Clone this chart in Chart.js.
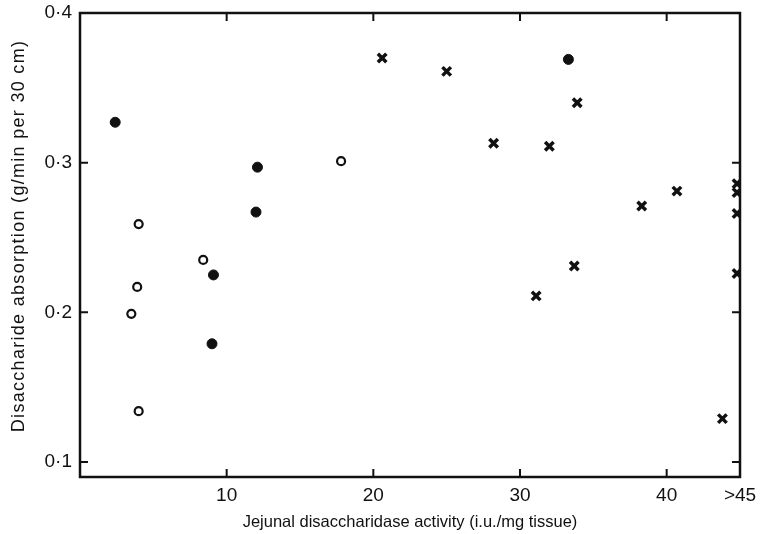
<!DOCTYPE html>
<html>
<head>
<meta charset="utf-8">
<script src="https://cdn.jsdelivr.net/npm/chart.js@4.4.1/dist/chart.umd.min.js"></script>
<style>
  html, body { margin:0; padding:0; background:#fff; }
  #wrap { width:768px; height:534px; }
</style>
</head>
<body>
<div id="wrap"><canvas id="chart" width="768" height="534"></canvas></div>
<script>
// values
const filledX = [2.4, 9.0, 9.1, 12.0, 12.1, 33.3];
const filledY = [0.327, 0.179, 0.225, 0.267, 0.297, 0.369];

const openX = [3.5, 3.9, 4.0, 4.0, 8.4, 17.8];
const openY = [0.199, 0.217, 0.259, 0.134, 0.235, 0.301];

const crossX = [20.6, 25.0, 28.2, 31.1, 32.0, 33.7, 33.9, 38.3, 40.7, 43.8, 44.8, 44.8, 44.8, 44.8];
const crossY = [0.370, 0.361, 0.313, 0.211, 0.311, 0.231, 0.340, 0.271, 0.281, 0.129, 0.286, 0.280, 0.266, 0.226];

const xTicks = [10, 20, 30, 40, 45];
const xTickLabels = ['10', '20', '30', '40', '>45'];
const yTicks = [0.1, 0.2, 0.3, 0.4];
const yTickLabels = ['0·1', '0·2', '0·3', '0·4'];

const yTitle = 'Disaccharide absorption (g/min per 30 cm)';

const pts = (xs, ys) => xs.map((x, i) => ({ x, y: ys[i] }));

// box frame, inward tick marks, and the spaced-out y title
const framePlugin = {
  id: 'frame',
  afterDatasetsDraw(chart){
    const { ctx, chartArea: a, scales } = chart;
    const len = 8;
    ctx.save();
    ctx.strokeStyle = '#111';
    ctx.lineWidth = 2;
    xTicks.filter(v => v < 45).forEach(v => {
      const px = scales.x.getPixelForValue(v);
      ctx.beginPath();
      ctx.moveTo(px, a.bottom); ctx.lineTo(px, a.bottom - len);
      ctx.moveTo(px, a.top); ctx.lineTo(px, a.top + len);
      ctx.stroke();
    });
    yTicks.filter(v => v < 0.4).forEach(v => {
      const py = scales.y.getPixelForValue(v);
      ctx.beginPath();
      ctx.moveTo(a.left, py); ctx.lineTo(a.left + len, py);
      ctx.moveTo(a.right, py); ctx.lineTo(a.right - len, py);
      ctx.stroke();
    });
    ctx.lineWidth = 2.5;
    ctx.strokeRect(a.left, a.top, a.right - a.left, a.bottom - a.top);

    // y title
    ctx.translate(19, 236);
    ctx.rotate(-Math.PI / 2);
    ctx.fillStyle = '#111';
    ctx.font = '18px "Liberation Sans"';
    ctx.letterSpacing = '1.3px';
    ctx.textAlign = 'center';
    ctx.textBaseline = 'middle';
    ctx.fillText(yTitle, 0, 0);
    ctx.restore();
  }
};

new Chart(document.getElementById('chart').getContext('2d'), {
  type: 'scatter',
  data: {
    datasets: [
      { label: 'filled', data: pts(filledX, filledY), pointStyle: 'circle', radius: 5,
        backgroundColor: '#111', borderColor: '#111', borderWidth: 1 },
      { label: 'open', data: pts(openX, openY), pointStyle: 'circle', radius: 4,
        backgroundColor: '#fff', borderColor: '#111', borderWidth: 2.2 },
      { label: 'cross', data: pts(crossX, crossY), pointStyle: 'crossRot', radius: 6,
        borderColor: '#111', borderWidth: 3.5 }
    ]
  },
  options: {
    responsive: false,
    animation: false,
    layout: { padding: { left: 0, right: 28, top: 13, bottom: 0 } },
    plugins: { legend: { display: false }, tooltip: { enabled: false } },
    scales: {
      x: {
        type: 'linear', min: 0, max: 45,
        afterBuildTicks: s => { s.ticks = xTicks.map(v => ({ value: v })); },
        afterFit: s => { s.height = 57; },
        grid: { display: false, drawTicks: false },
        border: { display: false },
        ticks: {
          padding: 7, color: '#111', maxRotation: 0, autoSkip: false,
          font: { family: 'Liberation Sans', size: 19 },
          callback: v => xTickLabels[xTicks.indexOf(v)]
        },
        title: {
          display: true, text: 'Jejunal disaccharidase activity (i.u./mg tissue)',
          color: '#111', font: { family: 'Liberation Sans', size: 16.5 },
          padding: { top: 0, bottom: 2 }
        }
      },
      y: {
        type: 'linear', min: 0.09, max: 0.4,
        afterBuildTicks: s => { s.ticks = yTicks.map(v => ({ value: v })); },
        afterFit: s => { s.width = 80; s.paddingTop = 0; s.paddingBottom = 0; },
        grid: { display: false, drawTicks: false },
        border: { display: false },
        ticks: {
          padding: 8, color: '#111', autoSkip: false,
          font: { family: 'Liberation Sans', size: 19 },
          callback: v => yTickLabels[yTicks.findIndex(t => Math.abs(t - v) < 1e-9)]
        },
        title: { display: false }
      }
    }
  },
  plugins: [framePlugin]
});
</script>
</body>
</html>
